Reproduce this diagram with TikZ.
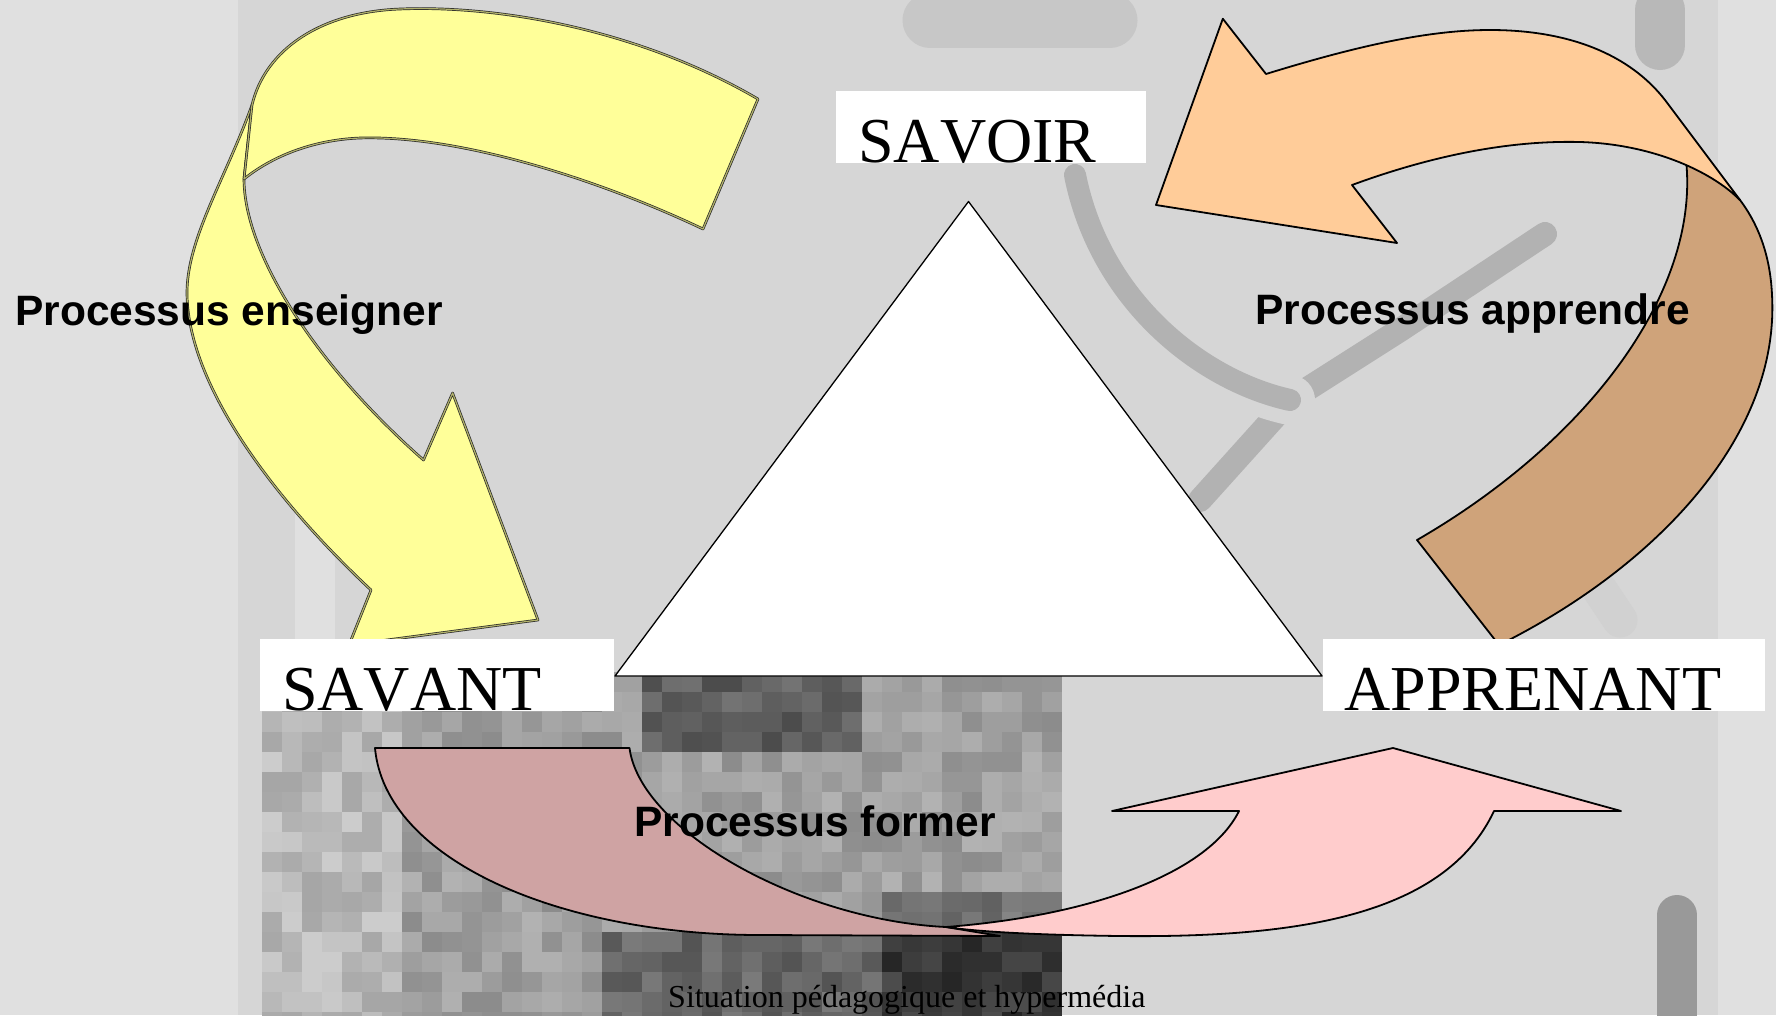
\documentclass[tikz,border=0pt]{standalone}
\usepackage{fontspec}
\setmainfont{Liberation Serif}[Kerning=Off]
\setsansfont{Liberation Sans}
\usetikzlibrary{positioning}
\definecolor{yellowfill}{HTML}{FFFF99}
\definecolor{peachfill}{HTML}{FFCC99}
\definecolor{tanfill}{HTML}{CFA37A}
\definecolor{rosefill}{HTML}{CFA3A3}
\definecolor{pinkfill}{HTML}{FFCCCC}
\definecolor{bgpale}{HTML}{E0E0E0}
\definecolor{bgphoto}{HTML}{D6D6D6}
\tikzstyle{labelbox} = [fill=white, inner sep=0pt, anchor=north west, minimum height=72pt]
\tikzstyle{labeltext} = [font=\fontsize{64}{64}\selectfont, inner sep=0pt, anchor=base west]
\tikzstyle{process} = [font=\sffamily\bfseries\fontsize{42.5}{42.5}\selectfont, inner sep=0pt, anchor=base west]
\tikzstyle{ribbon} = [draw=black, line width=1.8pt, line join=round]
\tikzstyle{yellowribbon} = [draw=black!85, double=yellowfill!70!black, double distance=1.2pt, line width=0.7pt, fill=yellowfill, line join=round]
\tikzstyle{blur} = [line cap=round, line join=round]

\begin{document}
\begin{tikzpicture}[x=1pt, y=-1pt]
        \useasboundingbox (0,0) rectangle (1776,1015);

        % background photo
        \fill[bgpale] (0,0) rectangle (1776,1015);
        \fill[bgphoto] (238,0) rectangle (1718,1015);
        \draw[blur, black!12, line width=40pt] (315,430) -- (315,640);
        \draw[blur, black!22, line width=55pt] (930,20) -- (1110,20);
        \draw[blur, black!28, line width=50pt] (1660,10) -- (1660,45);
        \draw[blur, black!16, line width=60pt] (1560,225) -- (1400,330) -- (1290,400) -- (1200,500);
        \draw[blur, black!30, line width=24pt] (1545,234) -- (1400,330) -- (1290,400) -- (1200,500);
        \draw[blur, black!16, line width=50pt] (1075,175) .. controls (1100,300) and (1200,380) .. (1290,400);
        \draw[blur, black!30, line width=22pt] (1075,175) .. controls (1100,300) and (1200,380) .. (1290,400);
        \draw[blur, black!18, line width=35pt] (1600,590) -- (1620,620);
        \draw[blur, black!40, line width=40pt] (1677,915) -- (1677,1015);
        \pgfmathsetseed{12}
        \foreach \i in {0,...,39} {
            \foreach \j in {0,...,17} {
                \pgfmathsetmacro{\shade}{int(30+16*rnd-(\i<7)*10+(\j>12)*(\i>16)*22+(\j<4)*(\i>18)*(\i<30)*25+(\j>10)*(\i>30)*18)}
                \fill[black!\shade] ({262+20*\i},{672+20*\j}) rectangle +(20,20);
            }
        }

        % processus enseigner
        \filldraw[yellowribbon] (252,105) .. controls (225,180) and (186,240) .. (187,295)
            .. controls (189,390) and (280,505) .. (371,590) -- (349,645) -- (538,620)
            -- (452.6,393) -- (423.5,460) .. controls (310,360) and (244,250) .. (244,179) -- cycle;
        \filldraw[yellowribbon] (758,99) .. controls (640,30) and (500,5) .. (400,9)
            .. controls (320,12) and (265,50) .. (252,105) -- (244,179)
            .. controls (270,158) and (310,140) .. (360,138)
            .. controls (460,135) and (600,180) .. (703,229) -- cycle;

        % processus apprendre
        \filldraw[ribbon, fill=tanfill] (1686,160) .. controls (1700,290) and (1590,440) .. (1417,540)
            -- (1499,645) .. controls (1650,570) and (1780,440) .. (1772,295)
            .. controls (1770,250) and (1755,220) .. (1740,200) -- (1700,160) -- cycle;
        \filldraw[ribbon, fill=peachfill] (1222.8,18.75) -- (1266,74)
            .. controls (1360,45) and (1430,30) .. (1490,30)
            .. controls (1570,30) and (1630,55) .. (1665,100) -- (1740,200)
            .. controls (1710,170) and (1650,144) .. (1580,142)
            .. controls (1500,140) and (1420,160) .. (1352,185) -- (1397,243) -- (1156,205) -- cycle;

        % processus former
        \filldraw[ribbon, fill=rosefill] (375,748) -- (629.5,748)
            .. controls (640,830) and (800,920) .. (946,927) -- (1000,936) -- (760,935)
            .. controls (560,935) and (385,860) .. (375,748) -- cycle;
        \filldraw[ribbon, fill=pinkfill] (946,927) .. controls (1100,915) and (1210,870) .. (1239,811)
            -- (1112,811) -- (1393,748) -- (1621,811) -- (1494,811)
            .. controls (1445,915) and (1300,938) .. (1120,936)
            .. controls (1040,935) and (980,932) .. (946,927) -- cycle;

        \filldraw[fill=white, draw=black, line width=1.3pt, line join=round] (968.5,201.5) -- (615,676) -- (1322,676) -- cycle;

        \node [labelbox, minimum width=310pt] (savoirbox) at (836,91) {};
        \node [labelbox, minimum width=354pt] (savantbox) at (260,639) {};
        \node [labelbox, minimum width=442pt] (apprenantbox) at (1323,639) {};
        \node [labeltext] (savoir) at ([xshift=22pt, yshift=1pt]savoirbox.south west) {SAVOIR};
        \node [labeltext] (savant) at ([xshift=22pt, yshift=1pt]savantbox.south west) {SAVANT};
        \node [labeltext] (apprenant) at ([xshift=21pt, yshift=1pt]apprenantbox.south west) {APPRENANT};

        \node [process] (enseigner) at (15,325) {Processus enseigner};
        \node [process] (apprendre) at (1255,324) {Processus apprendre};
        \node [process] (former) at (634,836) {Processus former};

        \node [font=\fontsize{32}{32}\selectfont, inner sep=0pt, anchor=base west] (caption) at (668,1007) {Situation pédagogique et hypermédia};
    \end{tikzpicture}
\end{document}
